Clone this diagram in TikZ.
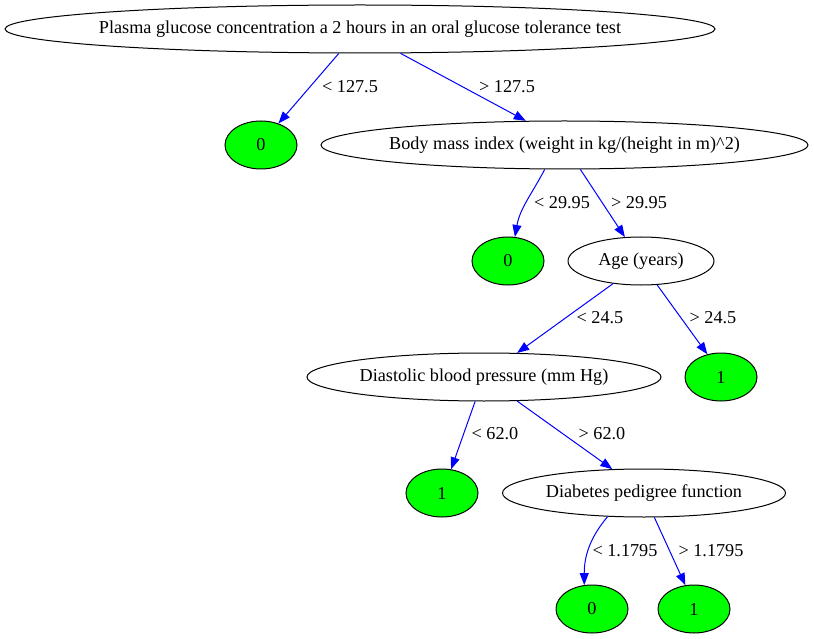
\documentclass[tikz,border=0pt]{standalone}
\usepackage{fontspec}
\setmainfont{Liberation Serif}
\usetikzlibrary{shapes.geometric,arrows.meta}
\newcommand{\zbox}[1]{\makebox[0pt]{#1}}
\begin{document}
\begin{tikzpicture}[x=1pt,y=-1pt,
  every node/.style={font=\fontsize{18.2}{22}\selectfont},
  inner/.style={ellipse,draw=black,line width=1pt,inner sep=0pt,minimum height=48pt},
  leaf/.style={ellipse,draw=black,fill=green,line width=1pt,inner sep=0pt,minimum width=72pt,minimum height=48pt},
  edge/.style={draw=blue,line width=1pt,-{Triangle[length=12pt,width=9pt]}},
  lab/.style={inner sep=0pt}]
\useasboundingbox (0,0) rectangle (814,639);
\node[inner,minimum width=710pt] (root) at (360,29) {\zbox{Plasma glucose concentration a 2 hours in an oral glucose tolerance test}};
\node[leaf] (l0a) at (261,145) {0};
\node[inner,minimum width=487pt] (bmi) at (564.5,145) {\zbox{Body mass index (weight in kg/(height in m)\^{}2)}};
\node[leaf] (l0b) at (508,261) {0};
\node[inner,minimum width=146pt] (age) at (641,261) {\zbox{Age (years)}};
\node[inner,minimum width=354pt] (dia) at (484,377) {\zbox{Diastolic blood pressure (mm Hg)}};
\node[leaf] (l1a) at (721,377) {1};
\node[leaf] (l1b) at (442,493) {1};
\node[inner,minimum width=283pt] (ped) at (644,493) {\zbox{Diabetes pedigree function}};
\node[leaf] (l0c) at (592,609) {0};
\node[leaf] (l1c) at (694,609) {1};

\draw[edge] (root.-131) -- (l0a.51);
\draw[edge] (root.-31) -- (bmi.148.7);
\draw[edge] (bmi.-129) to[out=-118,in=80] (l0b.74);
\draw[edge] (bmi.-57) -- (age.124);
\draw[edge] (age.-141.6) -- (dia.36);
\draw[edge] (age.-56) -- (l1a.121);
\draw[edge] (dia.-110.6) -- (l1b.69.4);
\draw[edge] (dia.-36.9) -- (ped.143);
\draw[edge] (ped.-147) to[out=-130,in=90] (l0c.108);
\draw[edge] (ped.-67) -- (l1c.110.6);

\node[lab] (t1) at (350,87) {< 127.5};
\node[lab] (t2) at (507,87) {> 127.5};
\node[lab] (t3) at (562,203) {< 29.95};
\node[lab] (t4) at (639,203) {> 29.95};
\node[lab] (t5) at (600,318) {< 24.5};
\node[lab] (t6) at (713,318) {> 24.5};
\node[lab] (t7) at (495,434) {< 62.0};
\node[lab] (t8) at (602,434) {> 62.0};
\node[lab] (t9) at (625,551) {< 1.1795};
\node[lab] (t10) at (711,551) {> 1.1795};
\end{tikzpicture}
\end{document}
